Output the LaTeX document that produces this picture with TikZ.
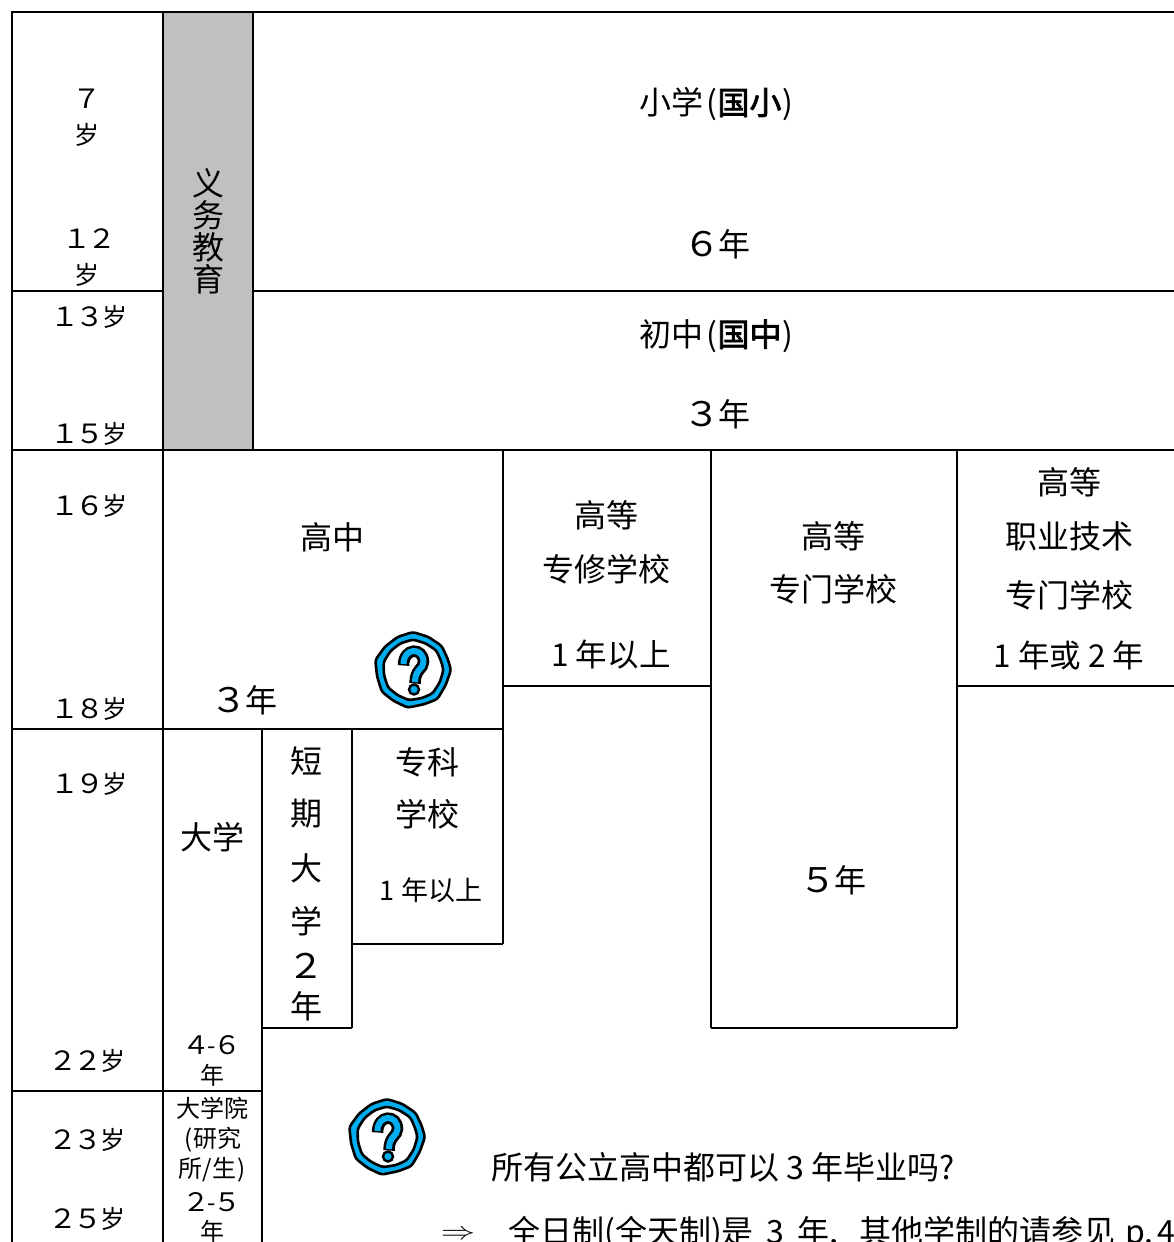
\documentclass[tikz,border=0pt]{standalone}
\usepackage{fontspec}
\setmainfont{Noto Sans CJK SC}
\newfontfamily\semibold[FakeBold=2.4]{Noto Sans CJK SC}
\newcommand\dg[1]{\makebox[1em]{\scalebox{1.16}[1.06]{#1}}}
\definecolor{grayband}{HTML}{C0C0C0}
\definecolor{iconblue}{HTML}{00AEEF}
\tikzset{
  rule/.style={black,line width=2.2pt},
  big/.style={inner sep=0pt,font=\fontsize{32}{32}\selectfont},
  bigb/.style={inner sep=0pt,font=\fontsize{31.5}{32}\selectfont},
  mid/.style={inner sep=0pt,font=\fontsize{27}{27}\selectfont},
  age/.style={inner sep=0pt,yshift=-1pt,font=\fontsize{25}{25}\selectfont},
  small/.style={inner sep=0pt,font=\fontsize{24}{24}\selectfont},
  qicon/.pic={
    \draw[fill=iconblue,line width=2.6pt,line join=round,rounded corners=3pt]
      (0:38) -- (25:36) -- (50:38) -- (72:36) -- (98:38) -- (122:36.5) -- (145:38) -- (170:36.5) -- (195:39) -- (220:36.5) -- (245:36.5) -- (270:38) -- (295:36.5) -- (320:37.5) -- (342:36.5) -- cycle;
    \draw[fill=white,line width=2.6pt,line join=round,rounded corners=3pt]
      (0:30.5) -- (25:29.5) -- (50:30.5) -- (72:29.5) -- (98:30.5) -- (122:29.5) -- (145:30.5) -- (170:29.5) -- (195:30.5) -- (220:29.5) -- (245:29.5) -- (270:30.5) -- (295:29.5) -- (320:30.5) -- (342:29.5) -- cycle;
    \draw[line width=11.5pt,line cap=butt] (-9.5,-4.5) .. controls (-9.5,-23) and (10.5,-23) .. (10.5,-8) .. controls (10.5,-1) and (2,-1) .. (2,13.5);
    \draw[iconblue,line width=6pt,line cap=butt] (-9.5,-6) .. controls (-9.5,-23) and (10.5,-23) .. (10.5,-8) .. controls (10.5,-1) and (2,-1) .. (2,12);
    \draw[fill=iconblue,line width=2.4pt] (1,19.5) circle (5);
  }
}
\begin{document}
\begin{tikzpicture}[x=1pt,y=-1pt]
\useasboundingbox (0,0) rectangle (1174,1242);
\clip (0,0) rectangle (1174,1242);
\fill[white] (0,0) rectangle (1174,1242);
\fill[grayband] (163,12) rectangle (253,450);
% rules
\draw[rule] (1174,12) -- (12,12) -- (12,1242);
\draw[rule] (163,12) -- (163,1242);
\draw[rule] (253,12) -- (253,450);
\draw[rule] (12,291) -- (163,291);
\draw[rule] (253,291) -- (1174,291);
\draw[rule] (12,450) -- (1174,450);
\draw[rule] (12,729) -- (503,729);
\draw[rule] (503,450) -- (503,944);
\draw[rule] (711,450) -- (711,1028);
\draw[rule] (957,450) -- (957,1028);
\draw[rule] (503,686) -- (711,686);
\draw[rule] (957,686) -- (1174,686);
\draw[rule] (262,729) -- (262,1242);
\draw[rule] (352,729) -- (352,1028);
\draw[rule] (352,944) -- (503,944);
\draw[rule] (262,1028) -- (352,1028);
\draw[rule] (711,1028) -- (957,1028);
\draw[rule] (12,1091) -- (262,1091);
% ages
\node[age] (a7) at (87,98) {\dg{７}};
\node[age] (a7b) at (87,134) {岁};
\node[age] (a12) at (89,238) {\dg{１}\dg{２}};
\node[age] (a12b) at (87,274) {岁};
\node[age] (a13) at (90,316) {\dg{１}\dg{３}岁};
\node[age] (a15) at (90,433) {\dg{１}\dg{５}岁};
\node[age] (a16) at (90,505) {\dg{１}\dg{６}岁};
\node[age] (a18) at (90,708) {\dg{１}\dg{８}岁};
\node[age] (a19) at (90,783) {\dg{１}\dg{９}岁};
\node[age] (a22) at (88,1060) {\dg{２}\dg{２}岁};
\node[age] (a23) at (88,1139) {\dg{２}\dg{３}岁};
\node[age] (a25) at (88,1218) {\dg{２}\dg{５}岁};
% compulsory
\node[big] (y1) at (208,183) {义};
\node[big] (y2) at (208,215) {务};
\node[big] (y3) at (208,247) {教};
\node[big] (y4) at (208,279) {育};
% upper
\node[big] (xx) at (716,104) {小学\kern3pt(\kern0.5pt{\semibold 国小}\kern0.5pt)};
\node[big] (xxy) at (718,244) {\dg{６}年};
\node[big] (cz) at (716,336) {初中\kern3pt(\kern0.5pt{\semibold 国中}\kern0.5pt)};
\node[big] (czy) at (718,414) {\dg{３}年};
% senior high row
\node[big] (gz) at (332,537) {高中};
\node[big] (gzy) at (245,700) {\dg{３}年};
\node[big] (gd1) at (606,515) {高等};
\node[big] (gd2) at (606,569) {专修学校};
\node[bigb] (gd3) at (611,655) {1 年以上};
\node[big] (zm1) at (833,536) {高等};
\node[big] (zm2) at (833,589) {专门学校};
\node[big] (zm3) at (834,880) {\dg{５}年};
\node[big] (zy1) at (1069,482) {高等};
\node[big] (zy2) at (1069,536) {职业技术};
\node[big] (zy3) at (1069,595) {专门学校};
\node[bigb] (zy4) at (1069,655) {1 年或 2 年};
% universities
\node[big] (dx) at (212,837) {大学};
\node[big] (dq1) at (306,761) {短};
\node[big] (dq2) at (306,814) {期};
\node[big] (dq3) at (306,868) {大};
\node[big] (dq4) at (306,921) {学};
\node[big] (dq5) at (306,966) {\dg{２}};
\node[big] (dq6) at (306,1006) {年};
\node[big] (zk1) at (427,762) {专科};
\node[big] (zk2) at (427,814) {学校};
\node[mid] (zk3) at (431,890) {1 年以上};
\node[small] (dxy1) at (212,1045) {\dg{４}\kern-1pt-\kern-1pt\dg{６}};
\node[small] (dxy2) at (212,1075) {年};
\node[small] (yj1) at (212,1108) {大学院};
\node[small] (yj2) at (213,1140) {(\kern1pt 研究};
\node[small] (yj3) at (212,1170) {所/生\kern1pt)};
\node[small] (yj4) at (212,1202) {\dg{２}\kern-1pt-\kern-1pt\dg{５}};
\node[small] (yj5) at (212,1231) {年};
% note
\node[big,anchor=west] (q) at (491,1167) {所有公立高中都可以 3 年毕业吗?};
\node[inner sep=0pt,font=\fontsize{28}{28}\selectfont] (arr) at (458,1235) {\scalebox{1.38}[1]{$\Rightarrow$}};
\node[big,anchor=west] (ans) at (508,1234) {全日制(全天制)是\kern6pt\ 3\ \kern6pt 年,\kern14pt\ 其他学制的请参见\kern2pt\ p.\kern4pt 4};
% icons
\pic at (413,670) {qicon};
\pic at (387,1137) {qicon};
\end{tikzpicture}
\end{document}
